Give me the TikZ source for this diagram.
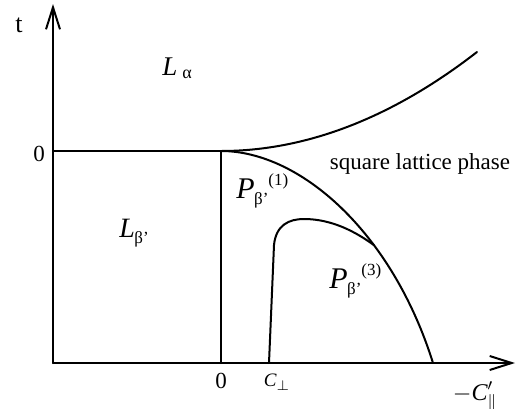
\documentclass[tikz,border=0pt]{standalone}
\usepackage{amsmath}
\usepackage{fontspec}
\setmainfont{Liberation Serif}
\usetikzlibrary{arrows.meta}
\newcommand{\tx}[1]{\text{#1}}
\newcommand{\phz}[4]{{\fontsize{#4}{#4}\selectfont\itshape #1}\kern-0.3pt\raisebox{-3pt}{\fontsize{8.5}{8.5}\selectfont #2}\raisebox{6.5pt}{\fontsize{8.5}{8.5}\selectfont #3}}
\begin{document}
\begin{tikzpicture}[x=0.5pt,y=-0.5pt,
  ln/.style={line width=1pt,line cap=round,line join=round},
  ax/.style={ln,-{Straight Barb[length=11pt,width=7pt,line width=1pt]}},
  lbl/.style={inner sep=0pt,font=\fontsize{11.5}{13}\selectfont}]
\useasboundingbox (0,0) rectangle (520,408);
\coordinate (O) at (53,363);
\coordinate (ytip) at (53,4);
\coordinate (xtip) at (515,363);
\coordinate (t0) at (53,151);
\coordinate (A) at (221,151);
\coordinate (A0) at (221,363);
\coordinate (U) at (477,52);
\coordinate (E) at (433,363);
\coordinate (Cb) at (269,363);
\coordinate (Ct) at (274,245);
\coordinate (Pk) at (304,219);
\draw[ax] (O) -- (ytip);
\draw[ax] (O) -- (xtip);
\draw[ln] (t0) -- (A) -- (A0);
\draw[ln] (A) .. controls (306,151) and (392,118) .. (U);
\draw[ln] (A) .. controls (300,151) and (392,232) .. coordinate[pos=0.65] (J) (E);
\draw[ln] (Cb) -- (Ct) .. controls (276,225) and (289,219) .. (Pk)
  .. controls (332,219) and (356,232) .. (J);
\node[lbl,font=\fontsize{13}{14}\selectfont] (tl) at (19,25) {t};
\node[lbl,anchor=base west] (La) at (162,75) {{\fontsize{13.5}{14}\selectfont\itshape L}\kern2.5pt\raisebox{-1.5pt}{\fontsize{9}{9}\selectfont α}};
\node[lbl] (z1) at (39,154) {0};
\node[lbl] (sq) at (420,164) {square lattice phase};
\node[lbl,anchor=base west] (P1) at (236,198) {\phz{P}{β’}{(1)}{15}};
\node[lbl,anchor=base west] (Lb) at (119,237) {\phz{L}{β’}{}{14}};
\node[lbl,anchor=base west] (P3) at (329,288) {\phz{P}{β’}{(3)}{15}};
\node[lbl] (z2) at (221,381) {0};
\node[lbl,font=\fontsize{9.5}{12}\selectfont] (Cp) at (277,382) {$\tx{\itshape C}_{\perp}$};
\node[lbl,font=\fontsize{12}{13}\selectfont] (Cl) at (475,396) {$-\tx{\itshape C}'_{\|}$};
\end{tikzpicture}
\end{document}
